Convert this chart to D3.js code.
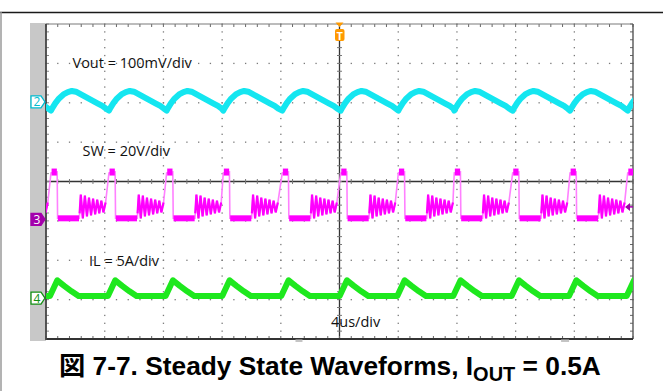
<!DOCTYPE html>
<html>
<head>
<meta charset="utf-8">
<script src="https://cdn.jsdelivr.net/npm/d3@7"></script>
<style>
  body { margin: 0; background: #fff; }
  svg text { font-family: "Open Sans", sans-serif; }
</style>
</head>
<body>
<div id="scope"></div>
<script>
var svgWidth = 663;
var svgHeight = 391;

// time axis: 4us/div, 10 div, trigger in the centre
var timeTicks = [-20, -16, -12, -8, -4, 0, 4, 8, 12, 16, 20];
var divTicks = [-4, -3, -2, -1, 0, 1, 2, 3, 4];

// channels: unit per div and reference position (div from centre)
var channelNames = ['2', '3', '4'];
var channelScales = [100, 20, 5];          // mV/div, V/div, A/div
var channelOffsets = [2.02, -0.96, -2.96];
var channelLabels = ['Vout = 100mV/div', 'SW = 20V/div', 'IL = 5A/div'];
var timeLabel = '4us/div';

// switching edges (us)
var cycleStarts = [-23.6, -19.66, -15.71, -11.78, -7.92, -3.90, 0.08, 4.01, 7.82, 11.80, 15.71, 19.64];

// one cycle of each trace, time from the edge (us)
var voutCycle = [[0, -22], [0.1, -15], [0.3, -3], [0.55, 9], [0.85, 19], [1.15, 25], [1.42, 28],
                 [1.7, 26], [2.2, 16], [2.7, 6], [3.2, -4], [3.5, -10], [3.75, -17]];   // mV
var swCycle = [[0, 23.5], [0.42, 24], [0.45, 0.5], [1.93, 0.5]];                       // V
var swRing = [[1.95, 3], [2.03, 12.5], [2.17, 0.5], [2.31, 12], [2.45, 1.5], [2.59, 11],
              [2.73, 2], [2.87, 10.5], [3.01, 2.5], [3.15, 10], [3.29, 3], [3.43, 9.5],
              [3.57, 3.5], [3.72, 8.5]];
var swFlat = [[0.04, 0.40, 24], [0.47, 1.91, 0.5]];                                    // from, to, V
var ilCycle = [[-0.07, 0.25], [0.43, 2.25], [0.9, 1.55], [1.4, 0.85], [1.88, 0.25], [3.74, 0.25]]; // A

var margin = { top: 24, left: 46 };
var plotW = 587, plotH = 315;

var svg = d3.select('#scope')
    .append('svg')
    .attr('width', svgWidth)
    .attr('height', svgHeight);

var xScale = d3.scaleLinear().domain([-20, 20]).range([margin.left, margin.left + plotW]);
var yScale = d3.scaleLinear().domain([-4, 4]).range([margin.top + plotH, margin.top]);

function chY(ch, v) {
    return yScale(v / channelScales[ch] + channelOffsets[ch]);
}

// page frame
svg.append('line').attr('x1', 0).attr('x2', svgWidth).attr('y1', 12.5).attr('y2', 12.5)
    .attr('stroke', '#1a1a1a').attr('stroke-width', 1.5);
svg.append('line').attr('x1', 1).attr('x2', 1).attr('y1', 12).attr('y2', svgHeight)
    .attr('stroke', '#9a9a9a').attr('stroke-width', 1.5);

// grey strip left of the screen
svg.append('rect').attr('x', 30).attr('y', 23).attr('width', 16).attr('height', 318)
    .attr('fill', '#c8c8c8');

var grid = svg.append('g');
var minorT = d3.range(-20, 20.001, 0.8);
var minorD = d3.range(-4, 4.001, 0.2);

// dotted grid
timeTicks.filter(function (t) { return t > -20 && t < 20 && t !== 0; }).forEach(function (t) {
    grid.selectAll(null).data(minorD).enter().append('rect')
        .attr('x', xScale(t) - 0.6).attr('y', function (d) { return yScale(d) - 0.6; })
        .attr('width', 1.3).attr('height', 1.3).attr('fill', '#7a7a7a');
});
divTicks.filter(function (d) { return d > -4 && d < 4 && d !== 0; }).forEach(function (d) {
    grid.selectAll(null).data(minorT).enter().append('rect')
        .attr('x', function (t) { return xScale(t) - 0.6; }).attr('y', yScale(d) - 0.6)
        .attr('width', 1.3).attr('height', 1.3).attr('fill', '#7a7a7a');
});

// centre cross with ticks
grid.append('line').attr('x1', xScale(-20)).attr('x2', xScale(20))
    .attr('y1', yScale(0)).attr('y2', yScale(0)).attr('stroke', '#333').attr('stroke-width', 1.3);
grid.append('line').attr('x1', xScale(0)).attr('x2', xScale(0))
    .attr('y1', yScale(-4)).attr('y2', yScale(4)).attr('stroke', '#333').attr('stroke-width', 1.3);
grid.selectAll(null).data(minorT).enter().append('line')
    .attr('x1', function (t) { return xScale(t); }).attr('x2', function (t) { return xScale(t); })
    .attr('y1', yScale(0) - 2.5).attr('y2', yScale(0) + 2.5)
    .attr('stroke', '#777').attr('stroke-width', 1);
grid.selectAll(null).data(minorD).enter().append('line')
    .attr('x1', xScale(0) - 2.5).attr('x2', xScale(0) + 2.5)
    .attr('y1', function (d) { return yScale(d); }).attr('y2', function (d) { return yScale(d); })
    .attr('stroke', '#777').attr('stroke-width', 1);

// border ticks
grid.selectAll(null).data(minorT).enter().append('line')
    .attr('x1', function (t) { return xScale(t); }).attr('x2', function (t) { return xScale(t); })
    .attr('y1', yScale(4)).attr('y2', yScale(4) + 3).attr('stroke', '#666');
grid.selectAll(null).data(minorT).enter().append('line')
    .attr('x1', function (t) { return xScale(t); }).attr('x2', function (t) { return xScale(t); })
    .attr('y1', yScale(-4)).attr('y2', yScale(-4) - 3).attr('stroke', '#666');
grid.selectAll(null).data(minorD).enter().append('line')
    .attr('x1', xScale(20)).attr('x2', xScale(20) - 3)
    .attr('y1', function (d) { return yScale(d); }).attr('y2', function (d) { return yScale(d); })
    .attr('stroke', '#666');
grid.selectAll(null).data(minorD).enter().append('line')
    .attr('x1', xScale(-20)).attr('x2', xScale(-20) + 3)
    .attr('y1', function (d) { return yScale(d); }).attr('y2', function (d) { return yScale(d); })
    .attr('stroke', '#888');

// screen border
grid.append('line').attr('x1', xScale(-20)).attr('x2', xScale(20)).attr('y1', yScale(4)).attr('y2', yScale(4))
    .attr('stroke', '#7a7a7a').attr('stroke-width', 1.2);
grid.append('line').attr('x1', xScale(20)).attr('x2', xScale(20)).attr('y1', yScale(4)).attr('y2', yScale(-4))
    .attr('stroke', '#555').attr('stroke-width', 1.4);
grid.append('line').attr('x1', xScale(-20)).attr('x2', xScale(20)).attr('y1', yScale(-4)).attr('y2', yScale(-4))
    .attr('stroke', '#333').attr('stroke-width', 1.8);
grid.append('line').attr('x1', xScale(-20)).attr('x2', xScale(-20)).attr('y1', yScale(4)).attr('y2', yScale(-4) + 1)
    .attr('stroke', '#444').attr('stroke-width', 1.8);

// horizontal position bars under the screen
svg.append('rect').attr('x', xScale(-3)).attr('y', yScale(-4) + 0.5).attr('width', 7).attr('height', 2.5).attr('fill', '#c4c4c4');
svg.append('rect').attr('x', xScale(15.1)).attr('y', yScale(-4) + 0.5).attr('width', 8).attr('height', 2.5).attr('fill', '#c4c4c4');

// traces
svg.append('clipPath').attr('id', 'screen').append('rect')
    .attr('x', margin.left).attr('y', margin.top).attr('width', plotW).attr('height', plotH);
var traces = svg.append('g').attr('clip-path', 'url(#screen)');

function repeatCycle(cycle) {
    var pts = [];
    cycleStarts.forEach(function (s) {
        cycle.forEach(function (p) { pts.push([s + p[0], p[1]]); });
    });
    return pts;
}

function lineFor(ch) {
    return d3.line()
        .x(function (d) { return xScale(d[0]); })
        .y(function (d) { return chY(ch, d[1]); });
}

// Vout
traces.append('path').datum(repeatCycle(voutCycle))
    .attr('d', lineFor(0)).attr('fill', 'none')
    .attr('stroke', '#14e6f0').attr('stroke-width', 6).attr('stroke-linejoin', 'round');

// SW: faint edges, then ringing and flat levels
traces.append('path').datum(repeatCycle(swCycle.concat(swRing)))
    .attr('d', lineFor(1)).attr('fill', 'none')
    .attr('stroke', '#ff80ff').attr('stroke-width', 1.6);
cycleStarts.forEach(function (s) {
    traces.append('path').datum(swRing.map(function (p) { return [s + p[0], p[1]]; }))
        .attr('d', lineFor(1)).attr('fill', 'none')
        .attr('stroke', '#ff00ff').attr('stroke-width', 2.2);
    swFlat.forEach(function (f) {
        traces.append('line')
            .attr('x1', xScale(s + f[0])).attr('x2', xScale(s + f[1]))
            .attr('y1', chY(1, f[2])).attr('y2', chY(1, f[2]))
            .attr('stroke', '#ff00ff').attr('stroke-width', f[2] > 10 ? 7 : 6);
    });
});

// IL
traces.append('path').datum(repeatCycle(ilCycle))
    .attr('d', lineFor(2)).attr('fill', 'none')
    .attr('stroke', '#1ee81e').attr('stroke-width', 6).attr('stroke-linejoin', 'round');

// channel markers
var markerFill = ['#ffffff', '#a400ac', '#ffffff'];
var markerStroke = ['#00bcd0', '#a400ac', '#138f13'];
var markerText = ['#00bcd0', '#ffffff', '#138f13'];
channelNames.forEach(function (name, i) {
    var y = yScale(channelOffsets[i]);
    var x0 = 31;
    svg.append('path')
        .attr('d', 'M' + x0 + ',' + (y - 6) + 'H' + (x0 + 10) + 'L' + (x0 + 14) + ',' + y +
              'L' + (x0 + 10) + ',' + (y + 6) + 'H' + x0 + 'Z')
        .attr('fill', markerFill[i]).attr('stroke', markerStroke[i]).attr('stroke-width', 1.3);
    svg.append('text').attr('x', x0 + 6).attr('y', y + 4.5)
        .attr('text-anchor', 'middle').attr('font-size', 12)
        .attr('fill', markerText[i]).text(name);
});

// trigger marker at top
var tx = xScale(0);
svg.append('path')
    .attr('d', 'M' + (tx - 4) + ',22.5H' + (tx + 4) + 'L' + tx + ',27Z')
    .attr('fill', '#ff9a00');
svg.append('rect').attr('x', tx - 4.5).attr('y', 29).attr('width', 9.5).attr('height', 12)
    .attr('rx', 2).attr('fill', '#ff9a00');
svg.append('text').attr('x', tx + 0.3).attr('y', 39.5).attr('text-anchor', 'middle')
    .attr('font-size', 11).attr('font-weight', 'bold').attr('fill', '#fff').text('T');

// trigger level arrow at right
var ty = chY(1, 6.3);
svg.append('path')
    .attr('d', 'M' + (xScale(20) - 8) + ',' + ty + 'L' + (xScale(20) - 3) + ',' + (ty - 4) +
          'V' + (ty + 4) + 'Z')
    .attr('fill', '#a000a8');
svg.append('line').attr('x1', xScale(20) - 4).attr('x2', xScale(20)).attr('y1', ty).attr('y2', ty)
    .attr('stroke', '#a000a8').attr('stroke-width', 1.5);

// scale labels
var labelX = [72.5, 82.5, 89];
var labelY = [68, 156, 266];
channelLabels.forEach(function (t, i) {
    svg.append('text').attr('x', labelX[i]).attr('y', labelY[i])
        .attr('font-size', 14.5).attr('fill', '#111').text(t);
});
svg.append('text').attr('x', 331).attr('y', 327)
    .attr('font-size', 14.5).attr('fill', '#111').text(timeLabel);

// caption
var caption = svg.append('text').attr('x', 59).attr('y', 375)
    .attr('font-size', 26.3).attr('font-weight', 'bold').attr('fill', '#000')
    .style('font-family', '"Liberation Sans", Arial, "Noto Sans CJK JP", sans-serif');
caption.append('tspan').text('図 7-7. Steady State Waveforms, I');
caption.append('tspan').attr('font-size', 20).attr('dy', 6).text('OUT');
caption.append('tspan').attr('dy', -6).text(' = 0.5A');
</script>
</body>
</html>
